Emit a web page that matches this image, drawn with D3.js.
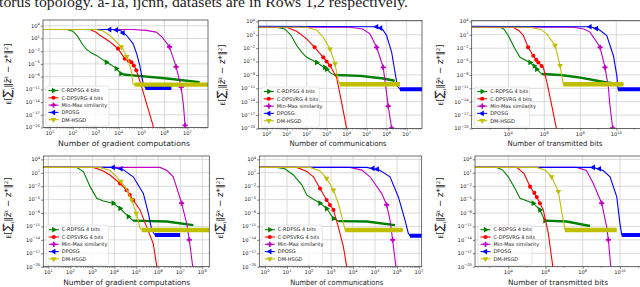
<!DOCTYPE html>
<html>
<head>
<meta charset="utf-8">
<script src="https://cdn.jsdelivr.net/npm/d3@7"></script>
<style>
  body { margin: 0; background: #fff; overflow: hidden; }
  svg { display: block; font-family: "DejaVu Sans", sans-serif; }
</style>
</head>
<body>
<svg id="fig" width="640" height="287"></svg>
<script>
// legend order: C-RDPSG, C-DPSVRG, Min-Max, DPOSG, DM-HSGD
const seriesNames = ["C-RDPSG 4 bits", "C-DPSVRG 4 bits", "Min-Max similarity", "DPOSG", "DM-HSGD"];
const xTitles = ["Number of gradient computations", "Number of communications", "Number of transmitted bits"];
const caption = "torus topology. a-1a, ijcnn, datasets are in Rows 1,2 respectively.";

// tick exponents (labels are 10^e)
const yTickExp = [4, 1, -2, -5, -8, -11, -14, -17, -20];
const xTickGradA = [1, 2, 3, 4, 5, 6, 7];
const xTickCommA = [0, 1, 2, 3, 4, 5, 6, 7];
const xTickBitsA = [4, 6, 8, 10];
const xTickGradB = [1, 2, 3, 4, 5, 6, 7, 8];
const xTickCommB = [0, 1, 2, 3, 4, 5, 6, 7];
const xTickBitsB = [4, 6, 8, 10];

// values as [log10 x, log10 error]
// row 1 (a-1a), gradient computations
const a1aGrad = [
  [[0.7,3.1],[1.74,3.1],[2.0,2.7],[2.2,1.6],[2.4,-0.2],[2.6,-1.6],[2.8,-2.4],[3.03,-3.0],[3.3,-4.0],[3.47,-4.6],[3.7,-5.3],[3.9,-6.1],[4.1,-7.3],[4.2,-7.5],[4.63,-7.7],[6.0,-8.4],[7.53,-9.3]],
  [[0.7,3.1],[2.74,3.1],[3.0,2.5],[3.18,1.75],[3.4,1.0],[3.6,0.3],[3.8,-0.6],[3.97,-1.4],[4.1,-2.4],[4.27,-3.8],[4.4,-4.2],[4.56,-4.6],[4.7,-5.6],[4.77,-6.5],[5.0,-10.3],[5.2,-14],[5.5,-19.5],[5.52,-20.5]],
  [[0.7,3.1],[4.6,3.1],[5.2,2.9],[5.64,2.5],[5.9,1.3],[6.22,-1.0],[6.51,-5.7],[6.73,-10.5],[6.83,-14.8],[6.9,-19.5],[6.92,-20.5]],
  [[0.7,3.1],[3.74,3.1],[4.1,2.8],[4.34,1.75],[4.63,-0.2],[4.8,-2.8],[4.92,-5.3],[5.06,-9.3],[5.17,-10.7],[6.3,-10.7]],
  [[0.7,3.1],[3.0,3.1],[3.3,2.8],[3.61,1.75],[3.85,0.5],[4.12,-1.0],[4.3,-2.6],[4.41,-3.8],[4.56,-6.9],[4.63,-9.7],[4.7,-9.9],[7.9,-9.9]]
];
const a1aGradMk = [
  [[3.47,-4.6],[3.9,-6.1],[4.1,-7.3]],
  [[3.97,-1.4],[4.27,-3.8],[4.45,-4.3],[4.56,-4.6],[4.66,-5.4],[4.77,-6.5]],
  [[6.22,-1.0],[6.51,-5.7],[6.73,-10.5],[6.9,-19.5]],
  [[3.61,3.1],[3.9,3.0],[4.19,2.3]],
  [[4.12,-1.0],[4.35,-3.3]]
];
const a1aGradBand = [4.2, null, null, 5.17, 4.7];

// row 1, communications
const a1aComm = [
  [[-0.42,2.7],[0.5,2.7],[0.9,2.3],[1.2,1.0],[1.5,-1.4],[1.75,-2.9],[2.0,-4.06],[2.5,-5.2],[3.0,-6.7],[3.2,-7.6],[3.4,-8.0],[4.67,-8.2],[5.83,-8.8],[6.4,-9.3]],
  [[-0.42,2.7],[1.0,2.7],[1.5,1.8],[2.0,0.1],[2.4,-1.8],[2.83,-4.06],[3.17,-5.9],[3.5,-8.6],[3.75,-14.2],[4.02,-20.5]],
  [[-0.42,2.7],[4.17,2.7],[4.8,2.3],[5.17,1.2],[5.5,-1.8],[5.83,-6.3],[6.08,-15],[6.25,-19.9],[6.27,-20.5]],
  [[-0.42,2.9],[5.5,2.8],[5.8,2.2],[6.0,0.84],[6.25,-2.9],[6.42,-7.4],[6.53,-10.4],[6.67,-11.2],[7.77,-11.2]],
  [[-0.42,2.7],[2.0,2.7],[2.5,2.0],[2.83,0.46],[3.17,-2.2],[3.42,-5.5],[3.58,-9.3],[3.67,-10.1],[6.67,-10.1]]
];
const a1aCommMk = [
  [[2.5,-5.2],[2.9,-6.3],[3.0,-6.7]],
  [[2.4,-1.8],[2.83,-4.06],[3.0,-5.0],[3.17,-5.9]],
  [[5.5,-1.8],[5.83,-6.3],[6.08,-15],[6.25,-19.9]],
  [[5.5,2.8],[5.7,2.5]],
  [[3.17,-2.2],[3.42,-5.5]]
];
const a1aCommBand = [3.4, null, null, 6.67, 3.67];

// row 1, transmitted bits
const a1aBits = [
  [[1.97,2.7],[3.54,2.7],[3.75,2.3],[4.0,0.84],[4.38,-2.2],[4.65,-4.06],[5.21,-5.2],[5.58,-6.7],[5.86,-7.8],[6.9,-8.0],[8.0,-8.6],[9.47,-9.7],[10.2,-10.0]],
  [[1.97,2.7],[4.28,2.7],[4.6,1.9],[4.84,0.84],[5.1,-1.8],[5.39,-3.7],[5.67,-5.2],[5.95,-6.3],[6.23,-11.2],[6.7,-20.5]],
  [[1.97,2.7],[7.6,2.7],[8.2,2.3],[8.54,1.6],[9.1,-1.8],[9.37,-6.3],[9.56,-10.8],[9.65,-15],[9.8,-19.9],[9.82,-20.5]],
  [[1.97,2.9],[8.54,2.8],[9.0,2.3],[9.47,0.84],[9.84,-3.7],[10.03,-8.2],[10.1,-11.2],[11.8,-11.2]],
  [[1.97,2.7],[5.21,2.7],[5.8,2.2],[6.14,1.2],[6.6,-1.4],[6.88,-5.9],[7.06,-10.1],[10.4,-10.1]]
];
const a1aBitsMk = [
  [[5.21,-5.2],[5.45,-6.0],[5.58,-6.7]],
  [[5.1,-1.8],[5.39,-3.7],[5.55,-4.6],[5.67,-5.2],[5.85,-6.0]],
  [[9.1,-1.8],[9.37,-6.3],[9.8,-19.9]],
  [[8.54,2.8],[8.9,2.4]],
  [[6.6,-1.4],[6.88,-5.9]]
];
const a1aBitsBand = [5.86, null, null, 10.1, 7.06];

// row 2 (ijcnn), gradient computations
const ijcGrad = [
  [[0.77,2.2],[2.29,2.2],[2.6,1.2],[2.9,-2.1],[3.2,-4.7],[3.5,-5.3],[3.95,-5.8],[4.26,-6.95],[4.64,-8.8],[4.86,-9.7],[6.38,-9.9],[7.59,-10.7]],
  [[0.77,2.2],[3.05,2.2],[3.5,1.4],[3.8,0.5],[4.26,-1.4],[4.56,-2.9],[4.86,-5.1],[5.17,-7.3],[5.47,-11.1],[5.77,-14.8],[5.95,-20.5]],
  [[0.77,2.2],[6.08,2.2],[6.4,1.5],[6.68,0.1],[7.06,-5.8],[7.29,-10.3],[7.41,-14.0],[7.58,-20.5]],
  [[0.77,2.2],[3.95,2.2],[4.4,1.7],[4.86,0.1],[5.32,-3.6],[5.55,-8.1],[5.7,-11.8],[5.85,-12.9],[6.99,-12.9]],
  [[0.77,2.2],[3.35,2.2],[3.8,1.5],[4.1,0.1],[4.49,-2.1],[4.79,-5.1],[5.0,-8.1],[5.17,-11.4],[5.25,-11.8],[8.32,-11.8]]
];
const ijcGradMk = [
  [[3.95,-5.8],[4.26,-6.95],[4.64,-8.8]],
  [[4.26,-1.4],[4.56,-2.9],[4.7,-3.9],[4.86,-5.1]],
  [[7.06,-5.8],[7.41,-14.0]],
  [[3.95,2.2],[4.3,1.9]],
  [[4.3,-0.9],[4.79,-5.1],[5.0,-8.1]]
];
const ijcGradBand = [4.86, null, null, 5.85, 5.25];

// row 2, communications
const ijcComm = [
  [[-0.26,2.2],[0.53,2.2],[0.9,1.9],[1.29,0.5],[1.67,-1.7],[1.9,-4.0],[2.5,-5.8],[2.8,-7.0],[3.11,-9.2],[3.33,-9.8],[4.62,-9.9],[5.9,-10.7]],
  [[-0.26,2.2],[1.44,2.2],[1.9,1.3],[2.2,0.1],[2.5,-2.5],[2.8,-5.1],[3.11,-7.3],[3.33,-11.1],[3.56,-15.5],[3.73,-20.5]],
  [[-0.26,2.2],[3.86,2.2],[4.4,1.6],[4.77,0.1],[5.3,-3.6],[5.53,-6.2],[5.68,-9.6],[5.8,-14.0],[5.96,-20.5]],
  [[-0.26,2.2],[4.62,2.2],[5.2,1.6],[5.68,0.1],[6.06,-4.4],[6.36,-9.6],[6.51,-12.5],[6.59,-13.1],[7.12,-13.1]],
  [[-0.26,2.2],[2.05,2.2],[2.5,1.4],[2.8,-0.25],[3.11,-2.9],[3.33,-5.8],[3.49,-8.8],[3.64,-11.8],[6.26,-11.8]]
];
const ijcCommMk = [
  [[2.5,-5.8],[2.8,-7.0],[3.11,-9.2]],
  [[2.5,-2.5],[2.8,-5.1],[2.95,-6.2],[3.11,-7.3]],
  [[5.53,-6.2],[5.8,-14.0]],
  [[4.9,2.0],[5.1,1.8]],
  [[2.8,-0.25],[3.11,-2.9]]
];
const ijcCommBand = [3.33, null, null, 6.59, 3.64];

// row 2, transmitted bits
const ijcBits = [
  [[2.21,2.2],[3.38,2.2],[3.7,1.6],[4.0,0.1],[4.36,-2.5],[4.63,-4.7],[5.34,-5.8],[5.7,-7.3],[5.97,-9.7],[7.14,-9.9],[8.39,-10.9]],
  [[2.21,2.2],[4.45,2.2],[4.85,0.8],[5.17,-2.1],[5.53,-4.4],[5.88,-7.3],[6.15,-12.5],[6.41,-20.5]],
  [[2.21,2.2],[7.68,2.2],[8.2,1.5],[8.57,-1.4],[9.02,-5.8],[9.29,-11.1],[9.38,-14.0],[9.52,-20.5]],
  [[2.21,2.2],[8.57,2.2],[9.1,1.5],[9.47,0.1],[9.83,-4.4],[10.0,-10.3],[10.1,-12.9],[11.6,-12.9]],
  [[2.21,2.2],[5.53,2.2],[6.0,1.5],[6.33,0.1],[6.69,-3.2],[6.87,-7.7],[7.05,-11.8],[9.83,-11.8]]
];
const ijcBitsMk = [
  [[5.34,-5.8],[5.7,-7.3],[5.97,-9.7]],
  [[5.17,-2.1],[5.4,-3.5],[5.53,-4.4],[5.7,-5.8]],
  [[9.02,-5.8],[9.38,-14.0]],
  [[8.57,2.2],[8.9,1.9]],
  [[6.33,0.1],[6.69,-3.2]]
];
const ijcBitsBand = [5.97, null, null, 10.1, 7.05];

// styling
const colors = ["#008000", "#ff0000", "#bf00bf", "#0000ff", "#bfbf00"];
const markerType = [d3.symbolTriangle, d3.symbolCircle, d3.symbolCross, d3.symbolTriangle, d3.symbolTriangle];
const markerRot = [90, 0, 0, -90, 180];
const markerSize = [14, 13, 15, 14, 14];
const bandWidth = [2.4, 0, 0, 4, 4.4];
const drawOrder = [0, 1, 2, 3, 4];

const panels = [
  {id: 1, data: a1aGrad, mk: a1aGradMk, band: a1aGradBand, ticks: xTickGradA, minor: "sub", title: xTitles[0],
   left: 43, right: 208, top: 20, bottom: 127.5, xDom: [0.7, 7.9], yDom: [-20, 5.35],
   ylx: 11, yly: 74, tx: 124, ty: 146, tw: 132, legW: 63},
  {id: 2, data: a1aComm, mk: a1aCommMk, band: a1aCommBand, ticks: xTickCommA, minor: "sub", title: xTitles[1],
   left: 258.3, right: 422, top: 20.5, bottom: 128.5, xDom: [-0.42, 7.77], yDom: [-20, 4.2],
   ylx: 225, yly: 75, tx: 338, ty: 146, tw: 97, legW: 58},
  {id: 3, data: a1aBits, mk: a1aBitsMk, band: a1aBitsBand, ticks: xTickBitsA, minor: "dec", title: xTitles[2],
   left: 471.7, right: 648, top: 20.5, bottom: 128.5, xDom: [1.97, 11.76], yDom: [-20, 4.2],
   ylx: 443, yly: 75, tx: 555, ty: 146, tw: 95, legW: 55},
  {id: 4, data: ijcGrad, mk: ijcGradMk, band: ijcGradBand, ticks: xTickGradB, minor: "sub", title: xTitles[0],
   left: 43.3, right: 209.3, top: 156, bottom: 266.7, xDom: [0.77, 8.32], yDom: [-20, 4.75],
   ylx: 11, yly: 208, tx: 126.7, ty: 285, tw: 127, legW: 62},
  {id: 5, data: ijcComm, mk: ijcCommMk, band: ijcCommBand, ticks: xTickCommB, minor: "sub", title: xTitles[1],
   left: 259.3, right: 421.7, top: 156, bottom: 266.7, xDom: [-0.26, 7.12], yDom: [-20, 4.75],
   ylx: 223, yly: 208, tx: 336.7, ty: 285, tw: 93, legW: 60},
  {id: 6, data: ijcBits, mk: ijcBitsMk, band: ijcBitsBand, ticks: xTickBitsB, minor: "dec", title: xTitles[2],
   left: 475, right: 648, top: 156, bottom: 266.7, xDom: [2.21, 11.51], yDom: [-20, 4.75],
   ylx: 443, yly: 208, tx: 558, ty: 285, tw: 100, legW: 54}
];

const svg = d3.select("#fig");
const defs = svg.append("defs");
const fmtExp = e => (e < 0 ? "\u2212" + (-e) : "" + e);

// caption line, cropped at the top edge as in the source
svg.append("text")
  .attr("x", -1).attr("y", 7)
  .attr("font-family", "Liberation Serif, serif")
  .attr("font-size", 15)
  .attr("textLength", 409).attr("lengthAdjust", "spacingAndGlyphs")
  .attr("fill", "#222")
  .text(caption);

function sym(i) {
  return d3.symbol().type(markerType[i]).size(markerSize[i])();
}

function drawPanel(p) {
  const g = svg.append("g");
  const x = d3.scaleLog().domain([10 ** p.xDom[0], 10 ** p.xDom[1]]).range([p.left, p.right]);
  const y = d3.scaleLog().domain([10 ** p.yDom[0], 10 ** p.yDom[1]]).range([p.bottom, p.top]);

  defs.append("clipPath").attr("id", "clip" + p.id)
    .append("rect")
    .attr("x", p.left).attr("y", p.top)
    .attr("width", p.right - p.left).attr("height", p.bottom - p.top);

  // grid
  g.append("g").selectAll("line").data(p.ticks).join("line")
    .attr("x1", d => x(10 ** d)).attr("x2", d => x(10 ** d))
    .attr("y1", p.top).attr("y2", p.bottom)
    .attr("stroke", "#d0d0d0").attr("stroke-width", 0.8);
  g.append("g").selectAll("line").data(yTickExp).join("line")
    .attr("x1", p.left).attr("x2", p.right)
    .attr("y1", d => y(10 ** d)).attr("y2", d => y(10 ** d))
    .attr("stroke", "#d0d0d0").attr("stroke-width", 0.8);

  // x axis ticks
  const xa = g.append("g").attr("transform", `translate(0,${p.bottom})`)
    .call(d3.axisBottom(x).tickValues(p.ticks.map(e => 10 ** e)).tickSize(2.2).tickFormat(() => ""));
  xa.select(".domain").remove();
  xa.selectAll("line").attr("stroke", "#333").attr("stroke-width", 0.6);

  // minor ticks
  let minor = [];
  const lo = Math.floor(p.xDom[0]), hi = Math.ceil(p.xDom[1]);
  for (let k = lo; k <= hi; k++) {
    if (p.minor === "sub") {
      for (let m = 2; m <= 9; m++) minor.push(m * 10 ** k);
    } else if (!p.ticks.includes(k)) {
      minor.push(10 ** k);
    }
  }
  minor = minor.filter(v => v > 10 ** p.xDom[0] && v < 10 ** p.xDom[1]);
  g.append("g").selectAll("line").data(minor).join("line")
    .attr("x1", d => x(d)).attr("x2", d => x(d))
    .attr("y1", p.bottom).attr("y2", p.bottom + 1.3)
    .attr("stroke", "#333").attr("stroke-width", 0.4);

  // x tick labels
  const xl = g.append("g").selectAll("text").data(p.ticks).join("text")
    .attr("x", d => x(10 ** d)).attr("y", p.bottom + 7.6)
    .attr("text-anchor", "middle").attr("font-size", 5.2).attr("fill", "#222");
  xl.append("tspan").text("10");
  xl.append("tspan").attr("dy", -2.2).attr("font-size", 3.6).text(d => fmtExp(d));

  // y axis
  const ya = g.append("g").attr("transform", `translate(${p.left},0)`)
    .call(d3.axisLeft(y).tickValues(yTickExp.map(e => 10 ** e)).tickSize(2.2).tickFormat(() => ""));
  ya.select(".domain").remove();
  ya.selectAll("line").attr("stroke", "#333").attr("stroke-width", 0.6);
  const yl = g.append("g").selectAll("text").data(yTickExp).join("text")
    .attr("x", p.left - 3.2).attr("y", d => y(10 ** d) + 1.8)
    .attr("text-anchor", "end").attr("font-size", 5.2).attr("fill", "#222");
  yl.append("tspan").text("10");
  yl.append("tspan").attr("dy", -2.2).attr("font-size", 3.6).text(d => fmtExp(d));

  // series
  const plot = g.append("g").attr("clip-path", `url(#clip${p.id})`);
  const line = d3.line().x(d => x(10 ** d[0])).y(d => y(10 ** d[1]));
  drawOrder.forEach(i => {
    plot.append("path").attr("d", line(p.data[i]))
      .attr("fill", "none").attr("stroke", colors[i]).attr("stroke-width", 1.1);
    if (p.band[i] != null) {
      const seg = p.data[i].filter(d => d[0] >= p.band[i]);
      plot.append("path").attr("d", line(seg))
        .attr("fill", "none").attr("stroke", colors[i])
        .attr("stroke-width", bandWidth[i]).attr("stroke-linecap", "butt");
    }
    plot.append("g").selectAll("path").data(p.mk[i]).join("path")
      .attr("d", sym(i))
      .attr("transform", d => `translate(${x(10 ** d[0])},${y(10 ** d[1])}) rotate(${markerRot[i]})`)
      .attr("fill", colors[i]);
  });

  // frame
  g.append("rect")
    .attr("x", p.left).attr("y", p.top)
    .attr("width", p.right - p.left).attr("height", p.bottom - p.top)
    .attr("fill", "none").attr("stroke", "#333").attr("stroke-width", 0.7);

  // legend
  const lh = 7.3, legH = 40;
  const lg = g.append("g").attr("transform", `translate(${p.left + 3},${p.bottom - legH - 1.5})`);
  lg.append("rect").attr("width", p.legW).attr("height", legH).attr("rx", 1.5)
    .attr("fill", "#fff").attr("fill-opacity", 0.85)
    .attr("stroke", "#ccc").attr("stroke-width", 0.5);
  seriesNames.forEach((name, i) => {
    const cy = 4.5 + i * lh;
    lg.append("line").attr("x1", 2.5).attr("x2", 12.5).attr("y1", cy).attr("y2", cy)
      .attr("stroke", colors[i]).attr("stroke-width", 1.1);
    lg.append("path").attr("d", sym(i))
      .attr("transform", `translate(7.5,${cy}) rotate(${markerRot[i]})`)
      .attr("fill", colors[i]);
    lg.append("text").attr("x", 15.5).attr("y", cy + 1.8)
      .attr("font-size", 5).attr("fill", "#222").text(name);
  });

  // x title
  g.append("text").attr("x", p.tx).attr("y", p.ty)
    .attr("text-anchor", "middle").attr("font-size", 7.4).attr("fill", "#222")
    .attr("textLength", p.tw).attr("lengthAdjust", "spacingAndGlyphs")
    .text(p.title);

  // y title: E[ sum ||z_i^k - z*||^2 ]
  const yt = g.append("text")
    .attr("transform", `translate(${p.ylx},${p.yly}) rotate(-90)`)
    .attr("text-anchor", "middle").attr("font-size", 8.6).attr("fill", "#222");
  yt.append("tspan").attr("font-size", 6).text("E");
  yt.append("tspan").text("[");
  yt.append("tspan").attr("font-size", 11.5).text("\u2211");
  yt.append("tspan").attr("font-size", 3.8).attr("dy", 3.4).attr("dx", -4.5).text("i=1");
  yt.append("tspan").attr("font-size", 3.8).attr("dy", -9).attr("dx", -5.5).text("m");
  yt.append("tspan").attr("dy", 5.6).attr("dx", 1.8).text("\u2016z\u0304");
  yt.append("tspan").attr("font-size", 5).attr("dy", -2.8).text("k");
  yt.append("tspan").attr("dy", 2.8).text(" \u2212 z*\u2016");
  yt.append("tspan").attr("font-size", 5).attr("dy", -3.2).text("2");
  yt.append("tspan").attr("dy", 3.2).text("]");
}

panels.forEach(drawPanel);
</script>
</body>
</html>
